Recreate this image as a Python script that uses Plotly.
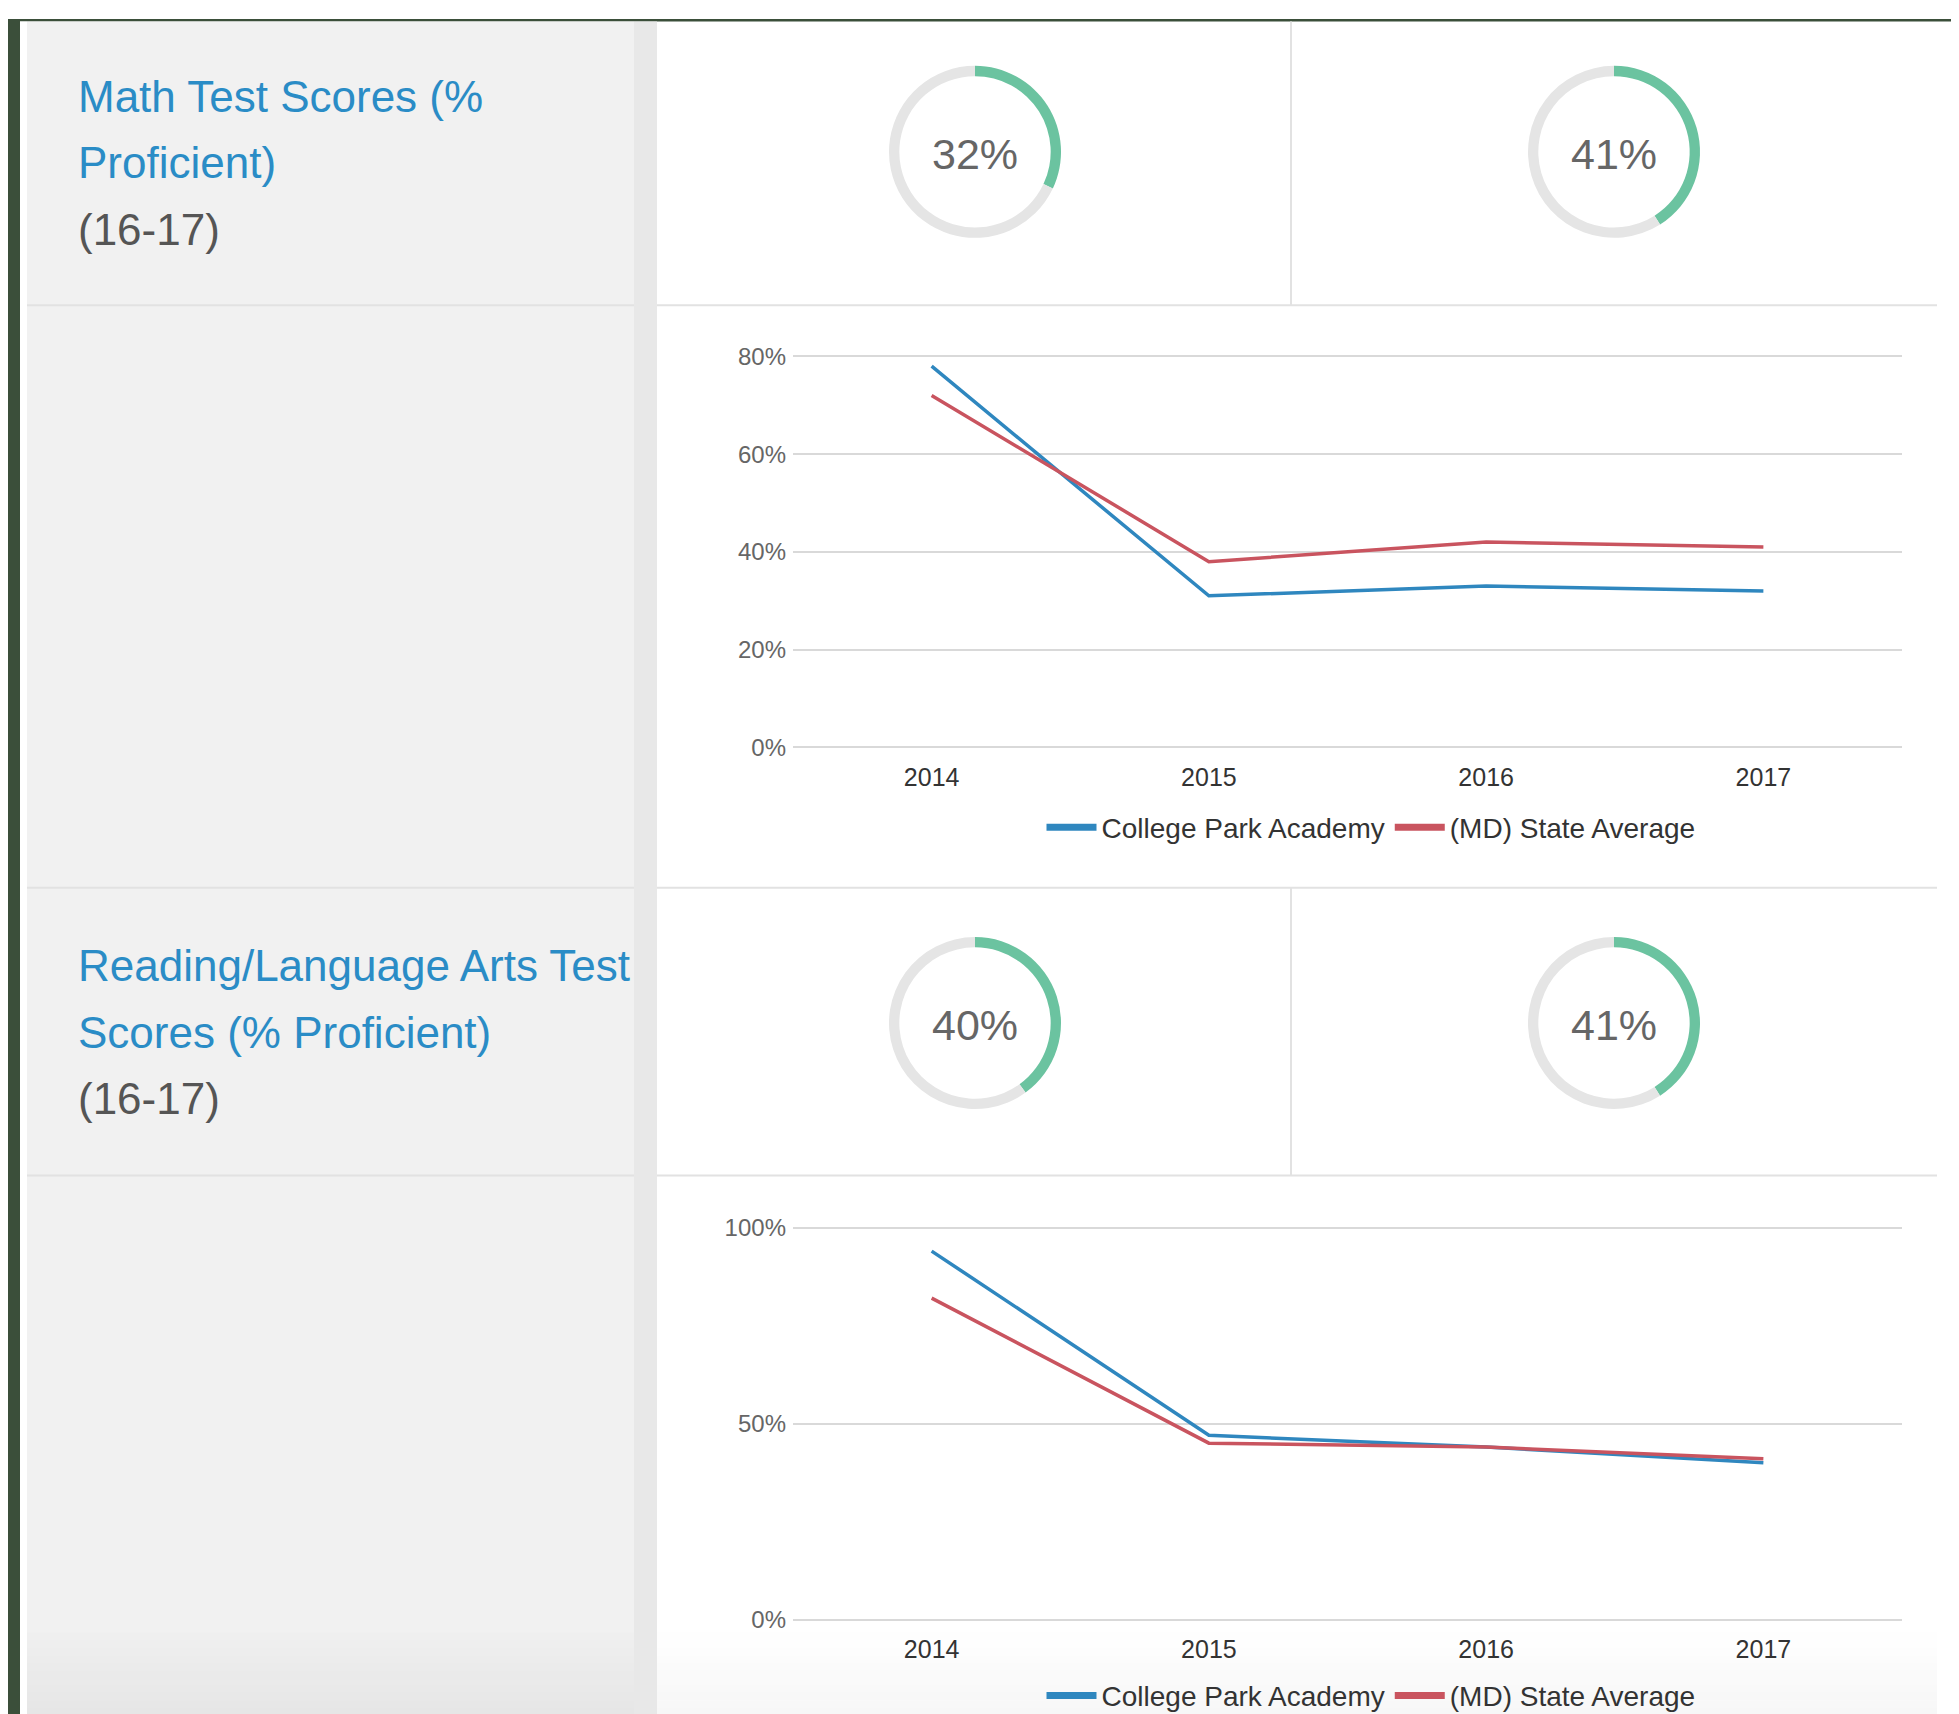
import plotly.graph_objects as go

# Reference (screen) coordinates are mapped onto the figure.  The page shows the
# figure offset by the body margin and slightly compressed vertically, so the
# mapping compensates for that.
SW, SH = 1959, 1714
OX = 8            # horizontal page offset
CY, SY = 20.5, 0.9853   # vertical page offset / scale
W, H = 1943, 1722

# ---------------- data ----------------
years = ["2014", "2015", "2016", "2017"]
math_cpa = [78, 31, 33, 32]
math_state = [72, 38, 42, 41]
read_cpa = [94, 47, 44, 40]
read_state = [82, 45, 44, 41]

math_donuts = [32, 41]
read_donuts = [40, 41]

math_yticks = [0, 20, 40, 60, 80]
math_yticklabels = ["0%", "20%", "40%", "60%", "80%"]
read_yticks = [0, 50, 100]
read_yticklabels = ["0%", "50%", "100%"]

series_names = ["College Park Academy", "(MD) State Average"]
section_titles = [["Math Test Scores (%", "Proficient)"],
                  ["Reading/Language Arts Test", "Scores (% Proficient)"]]
section_period = "(16-17)"

# ---------------- styles ----------------
DARK = "#3b4f3a"
PANEL = "#f1f1f1"
STRIP = "#e8e8e8"
LINE = "#e2e2e2"
BLUE_T = "#2a8cc6"
GREEN = "#6bc3a0"
RING = "#e5e5e5"
C_CPA = "#2f87bf"
C_STATE = "#c9545f"
FONT = "Liberation Sans, Arial, sans-serif"


def px(x):
    return (x - OX) / W


def py(y):
    return 1 - ((y - CY) / SY) / H


shapes = []


def clip(v):
    return min(max(v, 0), 1)


def rect(x0, y0, x1, y1, color):
    shapes.append(dict(type="rect", xref="paper", yref="paper",
                       x0=clip(px(x0)), x1=clip(px(x1)),
                       y0=clip(py(y1)), y1=clip(py(y0)),
                       fillcolor=color, line=dict(width=0), layer="below"))


def hline(x0, x1, y, color=LINE, w=2):
    shapes.append(dict(type="line", xref="paper", yref="paper",
                       x0=px(x0), x1=px(x1), y0=py(y), y1=py(y),
                       line=dict(color=color, width=w), layer="below"))


def vline(x, y0, y1, color=LINE, w=2):
    shapes.append(dict(type="line", xref="paper", yref="paper",
                       x0=px(x), x1=px(x), y0=clip(py(y0)), y1=clip(py(y1)),
                       line=dict(color=color, width=w), layer="below"))


# backgrounds
rect(0, 0, SW, 23, DARK)
rect(0, 0, 20, SH + 20, DARK)
rect(20, 23, 27, SH + 20, "#ffffff")
rect(27, 23, 634, SH + 20, PANEL)
rect(634, 23, 657, SH + 20, STRIP)
# subtle bottom fade
n = 12
for i in range(n):
    y0 = 1630 + i * 90 / n
    g = int(round(0xf0 - (0xf0 - 0xe5) * (i + 1) / n))
    rect(27, y0, 634, y0 + 90 / n + 0.5, f"rgb({g},{g},{g})")
    g2 = int(round(0xff - (0xff - 0xf6) * (i + 1) / n))
    rect(657, y0, 1937, y0 + 90 / n + 0.5, f"rgb({g2},{g2},{g2})")

# dividers
for y in (306, 887, 1174):
    hline(27, 634, y)
    hline(657, 1937, y)
vline(1291, 23, 306)
vline(1291, 887, 1174)

annotations = []


def text(x, y, s, size, color, anchor="left"):
    annotations.append(dict(xref="paper", yref="paper", x=px(x), y=py(y),
                            text=s, showarrow=False, xanchor=anchor,
                            yanchor="middle",
                            font=dict(family=FONT, size=size, color=color)))


# section titles
for (lines, y_start) in zip(section_titles, (98, 965)):
    text(76, y_start, lines[0], 44, BLUE_T)
    text(76, y_start + 66, lines[1], 44, BLUE_T)
    text(76, y_start + 132, section_period, 44, "#555555")

fig = go.Figure()

# donuts
R = 86
donut_centers = [(975, 153), (1614, 153), (975, 1022), (1614, 1022)]
donut_vals = math_donuts + read_donuts
for (cx, cy), v in zip(donut_centers, donut_vals):
    fig.add_trace(go.Pie(values=[v, 100 - v], hole=0.88, sort=False,
                         direction="clockwise", rotation=0,
                         marker=dict(colors=[GREEN, RING], line=dict(width=0)),
                         textinfo="none", hoverinfo="skip", showlegend=False,
                         domain=dict(x=[px(cx - R), px(cx + R)],
                                     y=[py(cy + R), py(cy - R)])))
    text(cx, cy + 2, f"{v}%", 43, "#666666", anchor="center")

# line charts
charts = [("x", "y", "legend", math_cpa, math_state),
          ("x2", "y2", "legend2", read_cpa, read_state)]
for xa, ya, lg, cpa, state in charts:
    for vals, name, col in ((cpa, series_names[0], C_CPA),
                            (state, series_names[1], C_STATE)):
        fig.add_trace(go.Scatter(x=years, y=vals, mode="lines", name=name,
                                 line=dict(color=col, width=3.5),
                                 xaxis=xa, yaxis=ya, showlegend=False))
    # legend keys (thicker swatches, no data)
    for name, col in ((series_names[0], C_CPA), (series_names[1], C_STATE)):
        fig.add_trace(go.Scatter(x=[None], y=[None], mode="lines", name=name,
                                 line=dict(color=col, width=7),
                                 xaxis=xa, yaxis=ya, legend=lg))

X0, X1 = 793, 1902
PAD = 3  # pixels of padding so the edge gridlines are drawn
xcommon = dict(domain=[px(X0), px(X1)], type="category", range=[-0.5, 3.5],
               showgrid=False, zeroline=False, showline=False, ticks="",
               tickfont=dict(family=FONT, size=25, color="#333333"))
ycommon = dict(showgrid=True, gridcolor="#d9d9d9", gridwidth=2, zeroline=False,
               showline=False, ticks="", ticklabelstandoff=6,
               tickfont=dict(family=FONT, size=24, color="#666666"))

legend_common = dict(orientation="h", xanchor="center", yanchor="middle",
                     bgcolor="rgba(0,0,0,0)", itemwidth=50,
                     font=dict(family=FONT, size=28, color="#333333"))

# chart 1: 80% at y=357, 0% at y=747 ; chart 2: 100% at y=1226, 0% at y=1617
t1, b1, m1 = 357, 747, 80
t2, b2, m2 = 1226, 1617, 100
e1 = PAD * m1 / (b1 - t1)
e2 = PAD * m2 / (b2 - t2)

fig.update_layout(
    width=W, height=H, margin=dict(l=0, r=0, t=0, b=0),
    paper_bgcolor="#ffffff", plot_bgcolor="rgba(0,0,0,0)",
    shapes=shapes, annotations=annotations,
    xaxis=dict(**xcommon, anchor="y", ticklabelstandoff=10),
    yaxis=dict(**ycommon, domain=[py(b1 + PAD), py(t1 - PAD)],
               range=[-e1, m1 + e1], tickmode="array",
               tickvals=math_yticks, ticktext=math_yticklabels, anchor="x"),
    xaxis2=dict(**xcommon, anchor="y2", ticklabelstandoff=9),
    yaxis2=dict(**ycommon, domain=[py(b2 + PAD), py(t2 - PAD)],
                range=[-e2, m2 + e2], tickmode="array",
                tickvals=read_yticks, ticktext=read_yticklabels, anchor="x2"),
    legend=dict(**legend_common, x=px(1371), y=py(827)),
    legend2=dict(**legend_common, x=px(1371), y=py(1693)),
    hovermode=False,
)

fig.write_html("out.html")
